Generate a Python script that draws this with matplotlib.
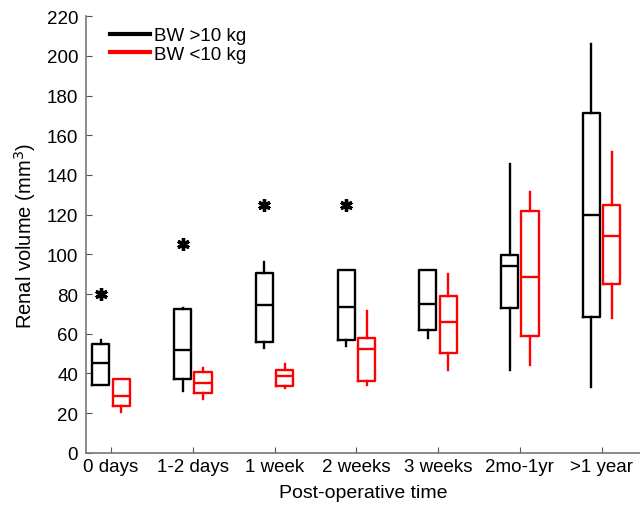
import matplotlib
matplotlib.use("Agg")
import matplotlib.pyplot as plt
from matplotlib.lines import Line2D

plt.rcParams['font.family'] = ['Liberation Sans', 'DejaVu Sans']

# categories on the x axis
labels = ['0 days', '1-2 days', '1 week', '2 weeks', '3 weeks', '2mo-1yr', '>1 year']

# BW > 10 kg (black) box stats
heavy_low = [34, 31, 53, 54, 58, 42, 33]
heavy_q1 = [34, 37, 56, 57, 62, 73, 68.5]
heavy_med = [45.5, 52, 74.5, 73.5, 75, 94, 120]
heavy_q3 = [55, 72.5, 90.5, 92, 92, 99.5, 171]
heavy_high = [57, 73, 96, 92, 92, 145.5, 206]
heavy_out = [[80], [105], [125], [125], [], [], []]

# BW < 10 kg (red) box stats
light_low = [20.5, 27, 32.5, 34, 42, 44.5, 68]
light_q1 = [23.5, 30, 33.5, 36, 50.5, 59, 85]
light_med = [28.5, 35, 38.5, 52.5, 66, 88.5, 109.5]
light_q3 = [37, 40.5, 42, 58, 79, 122, 125]
light_high = [37, 43, 45, 71.5, 90, 131.5, 151.5]
light_out = [[], [], [], [], [], [], []]


def make_stats(low, q1, med, q3, high, out):
    return [dict(whislo=a, q1=b, med=c, q3=d, whishi=e, fliers=f)
            for a, b, c, d, e, f in zip(low, q1, med, q3, high, out)]


fig = plt.figure(figsize=(6.4, 5.06), dpi=100)
ax = fig.add_axes([0.134, 0.103, 0.866, 0.863])

pos = list(range(1, len(labels) + 1))
for stats, col, shift in [(make_stats(heavy_low, heavy_q1, heavy_med, heavy_q3, heavy_high, heavy_out), 'black', -0.125),
                          (make_stats(light_low, light_q1, light_med, light_q3, light_high, light_out), 'red', 0.125)]:
    ax.bxp(stats, positions=[p + shift for p in pos], widths=0.21, showcaps=False,
           boxprops=dict(color=col, linewidth=1.7),
           medianprops=dict(color=col, linewidth=1.7),
           whiskerprops=dict(color=col, linewidth=1.7),
           flierprops=dict(marker=(6, 2, 0), markersize=9, markeredgewidth=2.4,
                           markeredgecolor=col, markerfacecolor=col, linestyle='none'),
           manage_ticks=False)

ax.set_xlim(0.69, 7.47)
ax.set_ylim(0, 220)
ax.set_yticks(range(0, 221, 20))
ax.set_xticks(pos)
ax.set_xticklabels(labels)
ax.tick_params(direction='in', length=4, width=0.8, color='#555555', labelsize=13.5)
ax.tick_params(axis='y', pad=5.5)
ax.tick_params(axis='x', pad=4)
for s in ['top', 'right']:
    ax.spines[s].set_visible(False)
for s in ['left', 'bottom']:
    ax.spines[s].set_color('#777777')
    ax.spines[s].set_linewidth(1.2)

ax.set_xlabel('Post-operative time', fontsize=14, labelpad=6)
ax.set_ylabel('Renal volume (mm$^3$)', fontsize=14.5, labelpad=6)

handles = [Line2D([], [], color='black', linewidth=3),
           Line2D([], [], color='red', linewidth=3)]
fig.legend(handles, ['BW >10 kg', 'BW <10 kg'], loc='upper left',
           bbox_to_anchor=(0.172, 0.944), frameon=False, fontsize=13.5,
           handlelength=2.15, handletextpad=0.2, labelspacing=0.05,
           borderpad=0, borderaxespad=0)

fig.savefig('out.png', dpi=100)
